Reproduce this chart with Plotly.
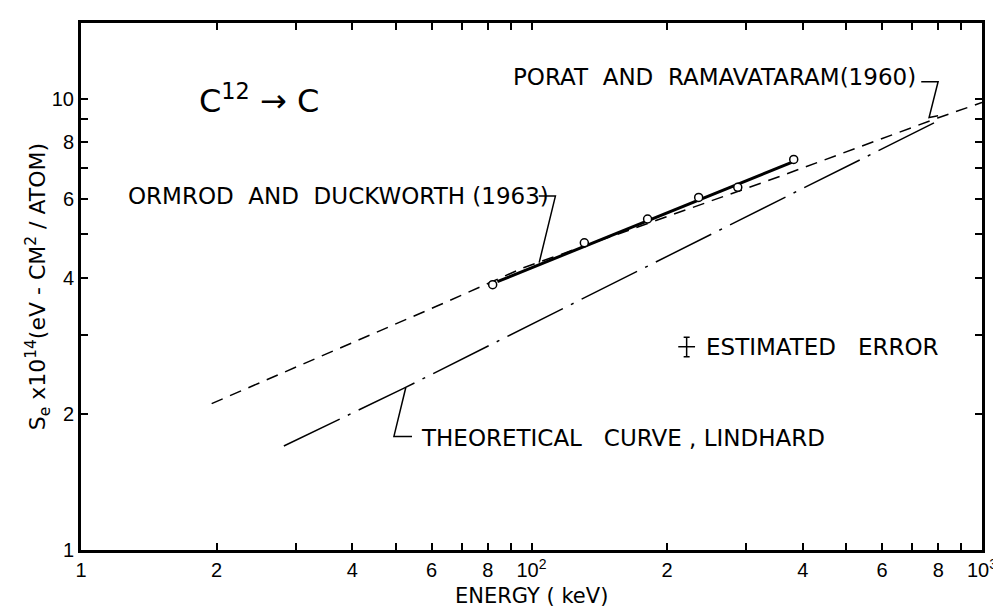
import numpy as np
import plotly.graph_objects as go

# ---- data ----
ormrod_energy = [82, 131, 181, 235, 287, 382]          # keV, measured points
ormrod_se = [3.87, 4.79, 5.41, 6.04, 6.36, 7.33]
ormrod_fit_energy = [84, 378]
ormrod_fit_se = [3.93, 7.22]

porat_energy = [19.5, 61.7, 96, 357, 700, 800, 1000]
porat_se = [2.11, 3.47, 4.22, 6.73, 8.63, 9.07, 9.8]

lindhard_energy = [28.2, 38.4, 52, 376, 800]
lindhard_se = [1.70, 1.97, 2.28, 6.13, 8.93]

error_pos = [221, 2.82]      # position of the "estimated error" symbol
error_percent = 5

x_tickvals = [10, 20, 40, 60, 80, 100, 200, 400, 600, 800, 1000]
x_ticktext = ["1", "2", "4", "6", "8", "10<sup>2</sup>", "2", "4", "6", "8", "10<sup>3</sup>"]
x_minorvals = [30, 50, 70, 90, 300, 500, 700, 900]
y_tickvals = [1, 2, 4, 6, 8, 10]
y_ticktext = ["1", "2", "4", "6", "8", "10"]
y_minorvals = [3, 5, 7, 9]

# leader lines (data coordinates)
leader_ormrod = ([103.8, 113, 104], [6.08, 6.08, 4.33])
leader_porat = ([733, 799, 763, 799], [10.9, 10.9, 9.08, 9.16])
leader_lindhard = ([54.3, 49.5, 52.6], [1.785, 1.785, 2.29])

TXT = "DejaVu Sans"
TICKF = "Liberation Sans"

fig = go.Figure()

fig.add_trace(go.Scatter(x=porat_energy, y=porat_se, mode="lines",
                         line=dict(color="black", width=1.5, dash="12px,8px"),
                         hoverinfo="skip", showlegend=False))
fig.add_trace(go.Scatter(x=lindhard_energy, y=lindhard_se, mode="lines",
                         line=dict(color="black", width=1.5, dash="62px,9px,3px,9px"),
                         hoverinfo="skip", showlegend=False))
fig.add_trace(go.Scatter(x=ormrod_fit_energy, y=ormrod_fit_se, mode="lines",
                         line=dict(color="black", width=3),
                         hoverinfo="skip", showlegend=False))
fig.add_trace(go.Scatter(x=ormrod_energy, y=ormrod_se, mode="markers",
                         marker=dict(symbol="circle", size=8, color="white",
                                     line=dict(color="black", width=1.5)),
                         showlegend=False))
for lx, ly in (leader_ormrod, leader_porat, leader_lindhard):
    fig.add_trace(go.Scatter(x=lx, y=ly, mode="lines",
                             line=dict(color="black", width=1.5),
                             hoverinfo="skip", showlegend=False))
fig.add_trace(go.Scatter(x=[error_pos[0]], y=[error_pos[1]], mode="markers",
                         marker=dict(symbol="line-ew", size=12,
                                     line=dict(color="black", width=1.5)),
                         error_y=dict(type="percent", value=error_percent, width=3,
                                      thickness=1.5, color="black"),
                         hoverinfo="skip", showlegend=False))

L = np.log10
ann = [
    dict(x=L(24.9), y=L(9.98), text="C<sup>12</sup> \u2192 C", size=32,
         xanchor="center", yanchor="middle"),
    dict(x=L(722), y=L(11.18), text="PORAT\u00a0 AND\u00a0 RAMAVATARAM(1960)", size=23,
         xanchor="right", yanchor="middle"),
    dict(x=L(12.6), y=L(6.08), text="ORMROD\u00a0 AND\u00a0 DUCKWORTH (1963)", size=23,
         xanchor="left", yanchor="middle"),
    dict(x=L(56.2), y=L(1.767), text="THEORETICAL\u00a0\u00a0 CURVE , LINDHARD", size=23,
         xanchor="left", yanchor="middle"),
    dict(x=L(241.4), y=L(2.82), text="ESTIMATED\u00a0\u00a0 ERROR", size=23,
         xanchor="left", yanchor="middle"),
]
annotations = []
for a in ann:
    size = a.pop("size")
    base = dict(xref="x", yref="y", showarrow=False,
                font=dict(family=TXT, size=size, color="black"))
    base.update(a)
    annotations.append(base)

annotations.append(dict(xref="paper", yref="paper", x=-0.048, y=0.5, textangle=-90,
                        text="S<sub>e</sub> x10<sup>14</sup>(eV - CM<sup>2</sup> / ATOM)",
                        showarrow=False, xanchor="center", yanchor="middle",
                        font=dict(family=TXT, size=22, color="black")))
annotations.append(dict(xref="paper", yref="paper", x=0.5, y=-0.088,
                        text="ENERGY ( keV)", showarrow=False,
                        xanchor="center", yanchor="middle",
                        font=dict(family=TXT, size=21, color="black")))

axis_common = dict(type="log", ticks="inside", ticklen=7, tickwidth=2, tickcolor="black",
                   showline=True, linewidth=3, linecolor="black", mirror="ticks",
                   showgrid=False, zeroline=False,
                   tickfont=dict(family=TICKF, size=20, color="black"))
minor_common = dict(ticks="inside", ticklen=7, tickwidth=2, tickcolor="black",
                    showgrid=False, tickmode="array")

fig.update_layout(
    width=1001, height=607,
    margin=dict(l=73, r=24, t=13, b=65),
    paper_bgcolor="white", plot_bgcolor="white",
    xaxis=dict(range=[1, 3], tickmode="array", tickvals=x_tickvals, ticktext=x_ticktext,
               minor=dict(tickvals=x_minorvals, **minor_common), **axis_common),
    yaxis=dict(range=[0, np.log10(14.7)], tickmode="array", tickvals=y_tickvals,
               ticktext=y_ticktext, minor=dict(tickvals=y_minorvals, **minor_common),
               **axis_common),
    annotations=annotations,
    showlegend=False,
)

fig.write_html("out.html")
